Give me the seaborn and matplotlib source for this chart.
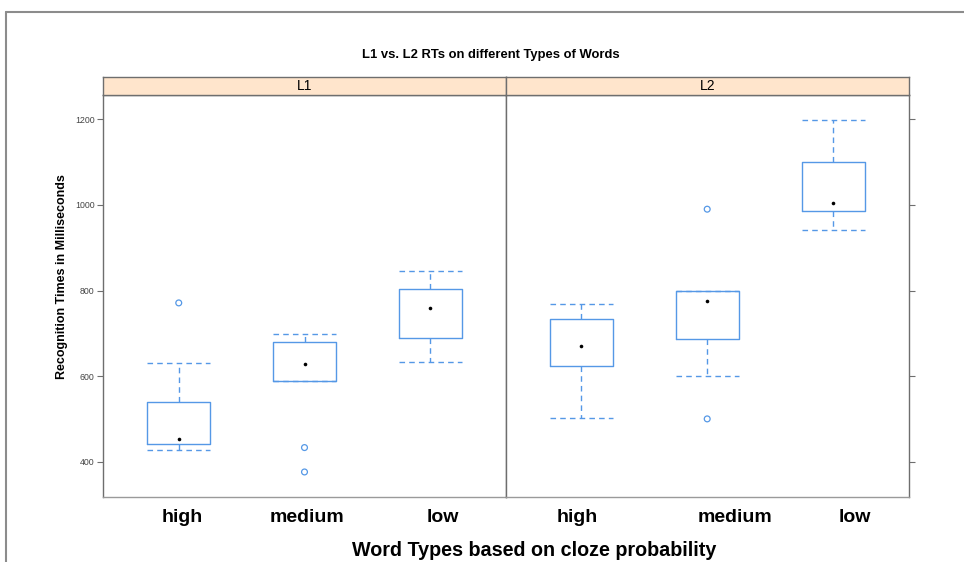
import numpy as np
import pandas as pd
import seaborn as sns
import matplotlib.pyplot as plt
from matplotlib.lines import Line2D

# ---- data -------------------------------------------------------------
groups = ["L1", "L2"]
word_types = ["high", "medium", "low"]

# five-number summaries per word type (lower whisker, lower hinge, median, upper hinge, upper whisker)
l1_lower = [428, 588, 633]
l1_q1 = [441, 588, 688]
l1_median = [453, 628, 758]
l1_q3 = [539, 679, 803]
l1_upper = [630, 698, 846]

l2_lower = [503, 600, 941]
l2_q1 = [623, 687, 985]
l2_median = [670, 776, 1004]
l2_q3 = [734, 798, 1100]
l2_upper = [769, 798, 1198]

# points outside the whiskers
l1_outlier_types = ["high", "medium", "medium"]
l1_outlier_rt = [771, 433, 376]
l2_outlier_types = ["medium", "medium"]
l2_outlier_rt = [990, 500]

y_ticks = [400, 600, 800, 1000, 1200]

summaries = {
    "L1": (l1_lower, l1_q1, l1_median, l1_q3, l1_upper),
    "L2": (l2_lower, l2_q1, l2_median, l2_q3, l2_upper),
}
outliers = {
    "L1": pd.DataFrame({"type": l1_outlier_types, "rt": l1_outlier_rt}),
    "L2": pd.DataFrame({"type": l2_outlier_types, "rt": l2_outlier_rt}),
}

# horizontal nudge of the category labels under each panel
label_shift = {"L1": [0.03, 0.02, 0.10], "L2": [-0.03, 0.22, 0.17]}


def summary_frame(stats):
    """Five sorted values per type whose quartiles are exactly the hinges."""
    rows = []
    for i, wt in enumerate(word_types):
        for s in stats:
            rows.append({"type": wt, "rt": s[i]})
    return pd.DataFrame(rows)


# ---- style ------------------------------------------------------------
sns.set_theme(style="white")
plt.rcParams["font.family"] = ["Liberation Sans", "DejaVu Sans"]
plt.rcParams["text.color"] = "black"

BOX_BLUE = "#5598e6"
EDGE = "#6e6e6e"
STRIP = "#ffe5cc"
DASH = (0, (4, 3))

W, H = 964, 562
fig = plt.figure(figsize=(W / 100, H / 100), dpi=100)


def fx(px):
    return px / W


def fy(py):
    return 1 - py / H


panel_top, panel_bottom = 95.0, 496.7
strip_top = 77.3
edges = [103.3, 505.7, 908.7]

axes = []
for k, grp in enumerate(groups):
    left, right = edges[k], edges[k + 1]
    ax = fig.add_axes([fx(left), fy(panel_bottom), fx(right - left),
                       (panel_bottom - panel_top) / H])
    lo, q1, med, q3, up = summaries[grp]
    df = summary_frame(summaries[grp])

    sns.boxplot(
        data=df, x="type", y="rt", order=word_types, ax=ax,
        whis=(0, 100), width=0.5, fill=False, color=BOX_BLUE,
        linewidth=1.0, showfliers=False,
        boxprops={"color": BOX_BLUE, "linewidth": 1.0},
        medianprops={"visible": False},
        whiskerprops={"color": BOX_BLUE, "linestyle": DASH, "linewidth": 1.0},
        capprops={"color": BOX_BLUE, "linestyle": DASH, "linewidth": 1.0},
        capwidths=0.5,
    )
    # medians shown as dots
    sns.stripplot(x=word_types, y=med, order=word_types, jitter=False,
                  color="black", size=2.6, linewidth=0, ax=ax, zorder=5)
    # outlying observations as open circles
    sns.stripplot(data=outliers[grp], x="type", y="rt", order=word_types,
                  jitter=False, marker="o", facecolor="none",
                  edgecolor=BOX_BLUE, linewidth=0.9, size=4.2, ax=ax, zorder=5)

    ax.set_xlim(-0.6, 2.6)
    ax.set_ylim(318.2, 1256.8)
    ax.set_xlabel("")
    ax.set_ylabel("")
    ax.set_yticks(y_ticks)
    ax.set_xticks([i + d for i, d in enumerate(label_shift[grp])])
    ax.set_xticklabels(word_types, fontsize=14, fontweight="bold",
                       color="black")
    ax.tick_params(axis="x", length=0, pad=9, colors="black")
    if k == 0:
        ax.tick_params(axis="y", left=True, right=False, labelleft=True,
                       direction="out", length=4.3, width=0.8, color=EDGE,
                       labelsize=6.3, labelcolor="#444444", pad=2)
    else:
        ax.tick_params(axis="y", left=False, right=True, labelleft=False,
                       labelright=False, direction="out", length=4.3,
                       width=0.8, color=EDGE)
    for side in ["left", "right", "top", "bottom"]:
        ax.spines[side].set_visible(True)
        ax.spines[side].set_color(EDGE)
        ax.spines[side].set_linewidth(1.0)
    ax.spines["bottom"].set_color("#9a9a9a")
    ax.set_facecolor("white")

    # panel strip
    sax = fig.add_axes([fx(left), fy(panel_top), fx(right - left),
                        (panel_top - strip_top) / H])
    sax.set_facecolor(STRIP)
    sax.set_xticks([])
    sax.set_yticks([])
    for side in ["left", "right", "top", "bottom"]:
        sax.spines[side].set_visible(True)
        sax.spines[side].set_color(EDGE)
        sax.spines[side].set_linewidth(1.0)
    sax.text(0.5, 0.5, grp, ha="center", va="center", fontsize=10,
             color="black", transform=sax.transAxes)
    axes.append(ax)

fig.text(fx(491), fy(55), "L1 vs. L2 RTs on different Types of Words",
         ha="center", va="center", fontsize=9.4, fontweight="bold")
fig.text(fx(62), fy(277), "Recognition Times in Milliseconds",
         ha="center", va="center", rotation=90, fontsize=9, fontweight="bold")
fig.text(fx(534), fy(550), "Word Types based on cloze probability",
         ha="center", va="center", fontsize=14.2, fontweight="bold")

# outer frame
fig.add_artist(Line2D([fx(5.5), 1.0], [fy(12), fy(12)], color="#8c8c8c",
                      linewidth=1.5, transform=fig.transFigure))
fig.add_artist(Line2D([fx(5.5), fx(5.5)], [0.0, fy(12)], color="#8c8c8c",
                      linewidth=1.5, transform=fig.transFigure))

fig.savefig("out.png", dpi=100)
